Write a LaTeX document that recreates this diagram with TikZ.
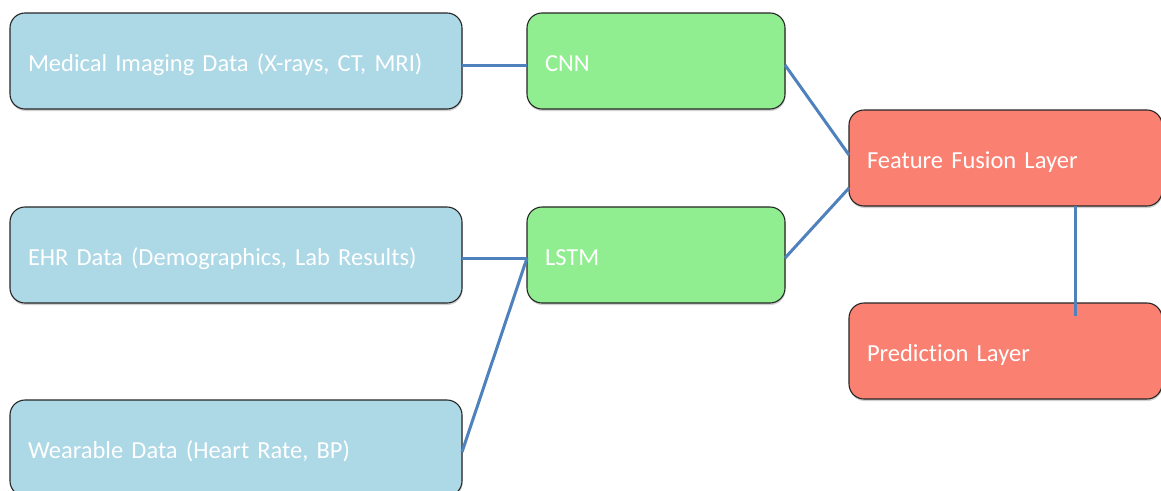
\documentclass[tikz,border=0pt]{standalone}
\usepackage{fontspec}
\setmainfont[WordSpace=0.8, Ligatures=NoCommon]{Carlito}
\usetikzlibrary{shadows}
\definecolor{inblue}{HTML}{ADD8E6}
\definecolor{modgreen}{HTML}{90EE90}
\definecolor{outsalmon}{HTML}{FA8072}
\definecolor{linkblue}{HTML}{4F81BD}
\tikzset{
  block/.style={draw=black!85, line width=1.1pt, rounded corners=15pt,
    minimum height=96pt, inner xsep=18pt, inner ysep=0pt, outer sep=0pt,
    text height=26pt, text depth=6pt,
    anchor=north west, align=left, text=white,
    font=\fontsize{24.5}{28}\selectfont,
    drop shadow={shadow xshift=0.5pt, shadow yshift=-2pt, opacity=0.18, fill=black}},
  source/.style={block, fill=inblue, minimum width=452pt, text width=416pt},
  model/.style={block, fill=modgreen, minimum width=258pt, text width=222pt},
  head/.style={block, fill=outsalmon, minimum width=313pt, text width=277pt},
  link/.style={draw=linkblue, line width=3pt}
}
\begin{document}
\begin{tikzpicture}[x=1pt, y=-1pt]
  \useasboundingbox (0,0) rectangle (1161,490);
  \clip (0,0) rectangle (1161,490);
  \fill[white] (0,0) rectangle (1161,490);

  % input data sources
  \node[source] (med) at (10,13) {Medical Imaging Data (X-rays, CT, MRI)};
  \node[source] (ehr) at (10,207) {EHR Data (Demographics, Lab Results)};
  \node[source] (wear) at (10,400) {Wearable Data (Heart Rate, BP)};

  % feature extractors
  \node[model] (cnn) at (527,13) {CNN};
  \node[model] (lstm) at (527,207) {LSTM};

  % fusion and output
  \node[head] (fuse) at (849,110) {Feature Fusion Layer};
  \node[head] (pred) at (849,303) {Prediction Layer};

  % connections (yshift is in page units: negative moves down)
  \draw[link] ([yshift=-4pt]med.east) -- ([yshift=-4pt]cnn.west);
  \draw[link] ([yshift=-3pt]ehr.east) -- ([yshift=-3pt]lstm.west);
  \draw[link] ([yshift=-4pt]wear.east) -- ([yshift=-3pt]lstm.west);
  \draw[link] ([yshift=-4pt]cnn.east) -- ([yshift=3pt]fuse.west);
  \draw[link] ([yshift=-3pt]lstm.east) -- ([yshift=-30pt]fuse.west);
  \draw[link] ([xshift=226pt]fuse.south west) -- ([xshift=226pt,yshift=-13pt]pred.north west);
\end{tikzpicture}
\end{document}
